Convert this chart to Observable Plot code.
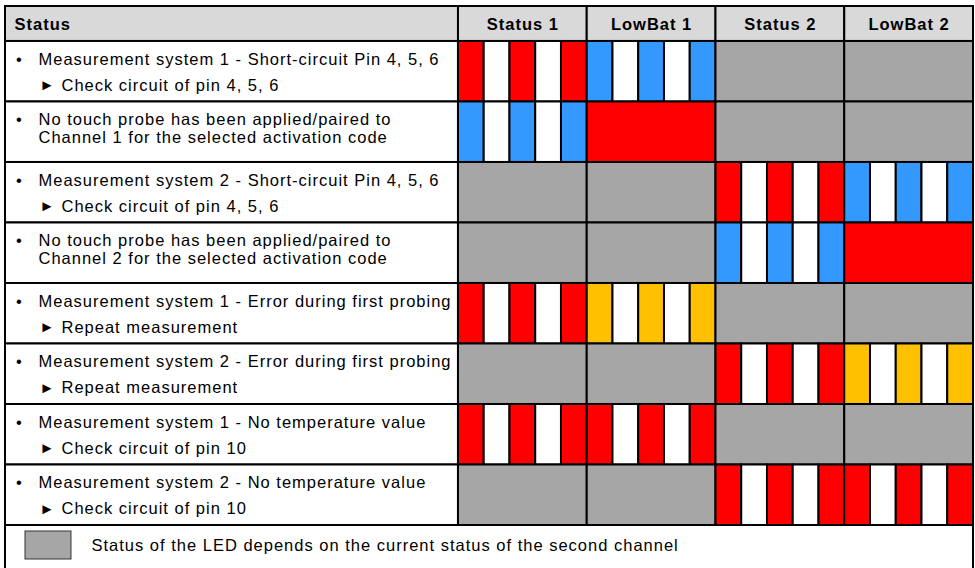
<!DOCTYPE html>
<html><head><meta charset="utf-8">
<script src="https://cdn.jsdelivr.net/npm/d3@7"></script>
<script src="https://cdn.jsdelivr.net/npm/@observablehq/plot@0.6"></script>
<style>
html,body{margin:0;padding:0;background:#fff;overflow:hidden;}
</style>
</head><body><div id="chart"></div>
<script>
// ---- data ----
const statusTitle = "Status";
const columns = ["Status 1", "LowBat 1", "Status 2", "LowBat 2"];
const statusLines = [
  "Measurement system 1 - Short-circuit Pin 4, 5, 6",
  "No touch probe has been applied/paired to\nChannel 1 for the selected activation code",
  "Measurement system 2 - Short-circuit Pin 4, 5, 6",
  "No touch probe has been applied/paired to\nChannel 2 for the selected activation code",
  "Measurement system 1 - Error during first probing",
  "Measurement system 2 - Error during first probing",
  "Measurement system 1 - No temperature value",
  "Measurement system 2 - No temperature value"
];
const actionLines = [
  "Check circuit of pin 4, 5, 6",
  null,
  "Check circuit of pin 4, 5, 6",
  null,
  "Repeat measurement",
  "Repeat measurement",
  "Check circuit of pin 10",
  "Check circuit of pin 10"
];
// LED state per row and column
const ledPatterns = [
  ["blinkRed", "blinkBlue", "gray", "gray"],
  ["blinkBlue", "solidRed", "gray", "gray"],
  ["gray", "gray", "blinkRed", "blinkBlue"],
  ["gray", "gray", "blinkBlue", "solidRed"],
  ["blinkRed", "blinkOrange", "gray", "gray"],
  ["gray", "gray", "blinkRed", "blinkOrange"],
  ["blinkRed", "blinkRed", "gray", "gray"],
  ["gray", "gray", "blinkRed", "blinkRed"]
];
const blinkSequence = [1, 0, 1, 0, 1];
const legendText = "Status of the LED depends on the current status of the second channel";

// ---- styles ----
const ledColors = {red: "#ff0000", blue: "#3399ff", orange: "#ffc000", gray: "#a6a6a6", off: "#ffffff"};
const patternDefs = {
  blinkRed: {blink: true, color: ledColors.red},
  blinkBlue: {blink: true, color: ledColors.blue},
  blinkOrange: {blink: true, color: ledColors.orange},
  solidRed: {blink: false, color: ledColors.red},
  gray: {blink: false, color: ledColors.gray}
};
const headerFill = "#d9d9d9";
const slots = blinkSequence.length;
const labelSlots = 17.59;   // width of text column in LED-slot units
const headerRows = 0.578;   // header height in row units
const nRows = statusLines.length;
const totalSlots = columns.length * slots;
const font = "Liberation Sans, Arial, sans-serif";
const fs = 16.5;

// ---- derived tables ----
const cells = [];
ledPatterns.forEach((row, r) => row.forEach((code, c) => {
  const p = patternDefs[code];
  if (p.blink) {
    blinkSequence.forEach((on, s) => cells.push({x1: c * slots + s, x2: c * slots + s + 1, y1: r, y2: r + 1, fill: on ? p.color : ledColors.off}));
  } else {
    cells.push({x1: c * slots, x2: c * slots + slots, y1: r, y2: r + 1, fill: p.color});
  }
}));
const headerCells = [{x1: -labelSlots, x2: 0}].concat(columns.map((c, i) => ({x1: i * slots, x2: (i + 1) * slots})));
const labelCells = statusLines.map((s, r) => ({r}));
const statusText = [];
statusLines.forEach((s, r) => s.split("\n").forEach((t, k) => statusText.push({r, k, t})));
const actions = actionLines.map((t, r) => ({r, t})).filter(d => d.t);

const plot = Plot.plot({
  width: 975, height: 568, margin: 0,
  x: {domain: [-labelSlots, totalSlots], range: [5, 973], axis: null},
  y: {domain: [-headerRows, nRows], range: [6, 525], axis: null},
  color: {type: "identity"},
  style: {fontFamily: font, letterSpacing: "1px", background: "white"},
  marks: [
    Plot.rect(headerCells, {x1: "x1", x2: "x2", y1: () => -headerRows, y2: () => 0, fill: headerFill, stroke: "black", strokeWidth: 2}),
    Plot.rect(labelCells, {x1: () => -labelSlots, x2: () => 0, y1: d => d.r, y2: d => d.r + 1, fill: "white", stroke: "black", strokeWidth: 2}),
    Plot.rect(cells, {x1: "x1", x2: "x2", y1: "y1", y2: "y2", fill: "fill", stroke: "black", strokeWidth: 2}),
    Plot.rect([legendText], {x1: () => -labelSlots, x2: () => totalSlots, y1: () => nRows, y2: () => nRows + 1, fill: "white", stroke: "black", strokeWidth: 2}),
    Plot.rect([legendText], {x1: () => -labelSlots, x2: () => 0, y1: () => nRows, y2: () => nRows + 1,
      insetLeft: 20, insetRight: 387, insetTop: 6, insetBottom: 26.5, fill: ledColors.gray, stroke: "#333", strokeWidth: 1}),
    Plot.text([statusTitle], {x: () => -labelSlots, y: () => -headerRows, dx: 9, dy: 18, text: d => d, textAnchor: "start", fontWeight: "bold", fontSize: fs, fill: "black"}),
    Plot.text(columns, {x: (d, i) => i * slots + slots / 2, y: () => -headerRows, dy: 18, text: d => d, fontWeight: "bold", fontSize: fs, fill: "black"}),
    Plot.text(statusLines, {x: () => -labelSlots, y: (d, i) => i, dx: 14, dy: 18, text: () => "\u2022", fontSize: fs, fill: "black"}),
    Plot.text(statusText.filter(d => d.k === 0), {x: () => -labelSlots, y: d => d.r, dx: 33, dy: 18, text: "t", textAnchor: "start", fontSize: fs, fill: "black"}),
    Plot.text(statusText.filter(d => d.k === 1), {x: () => -labelSlots, y: d => d.r, dx: 33, dy: 36, text: "t", textAnchor: "start", fontSize: fs, fill: "black"}),
    Plot.text(actions, {x: () => -labelSlots, y: d => d.r, dx: 42, dy: 44, text: () => "\u25BA", fontSize: 15, fill: "black"}),
    Plot.text(actions, {x: () => -labelSlots, y: d => d.r, dx: 56, dy: 44, text: "t", textAnchor: "start", fontSize: fs, fill: "black"}),
    Plot.text([legendText], {x: () => -labelSlots, y: () => nRows, dx: 86, dy: 20, text: d => d, textAnchor: "start", fontSize: fs, fill: "black"})
  ]
});
document.getElementById("chart").appendChild(plot);
</script>
</body></html>
